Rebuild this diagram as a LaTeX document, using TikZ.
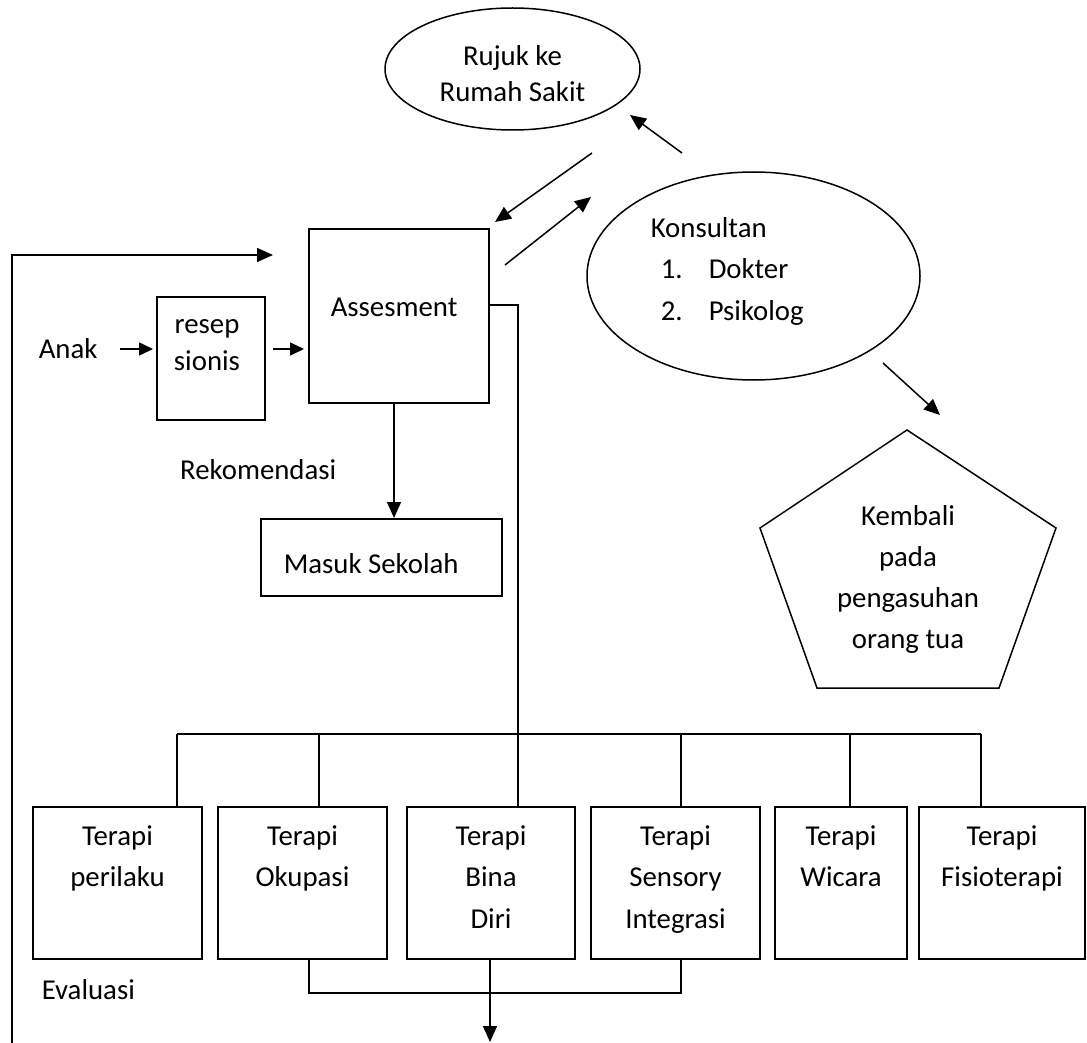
\documentclass[tikz,border=0pt]{standalone}
\usepackage{fontspec}
\setmainfont{Carlito}
\usetikzlibrary{arrows.meta,shapes.geometric}
\newcommand{\mylines}[1]{\vtop{\halign{\hfil##\hfil\cr #1\crcr}}}
\begin{document}
\begin{tikzpicture}[x=1pt,y=-1pt,line width=1.5pt,
  box/.style={draw,rectangle,inner sep=0pt},
  oval/.style={draw,ellipse,inner sep=0pt},
  txt/.style={inner sep=0pt,font=\fontsize{28.8}{41.5}\selectfont},
  arr/.style={-{Triangle[length=16pt,width=14pt]}},
  sarr/.style={-{Triangle[length=14pt,width=13pt]}}]
\useasboundingbox (0,0) rectangle (1087,1043);

% ellipses
\node[oval,minimum width=255pt,minimum height=122pt] (rujuk) at (512.5,69) {};
\node[txt,anchor=base] (rujukt) at (512.5,66) {\fontsize{28.8}{36}\selectfont\mylines{Rujuk ke\cr Rumah Sakit}};
\node[oval,minimum width=333pt,minimum height=208pt] (kons) at (753.5,276) {};
\node[txt,anchor=base west] (konst) at (650,237) {Konsultan};
\node[txt,anchor=base west] (n1) at (660,278) {1.};
\node[txt,anchor=base west] (dok) at (708,278) {Dokter};
\node[txt,anchor=base west] (n2) at (660,320) {2.};
\node[txt,anchor=base west] (psi) at (708,320) {Psikolog};

% pentagon
\coordinate (p1) at (907,430);
\coordinate (p2) at (1056,528);
\coordinate (p3) at (999,688);
\coordinate (p4) at (817,688);
\coordinate (p5) at (760,528);
\draw (p1) -- (p2) -- (p3) -- (p4) -- (p5) -- cycle;
\node[txt,anchor=base] (kembali) at (908,525) {\fontsize{28.8}{41}\selectfont\mylines{Kembali\cr pada\cr pengasuhan\cr orang tua}};

% top boxes
\node[box,minimum width=180pt,minimum height=174pt] (asses) at (399,316) {};
\node[txt,anchor=base west] (assest) at (330,316) {Assesment};
\node[box,minimum width=108pt,minimum height=123pt] (resep) at (211,358.5) {};
\node[txt,anchor=base] (resept) at (207,333) {\fontsize{28.8}{37}\selectfont\mylines{resep\cr sionis}};
\node[txt,anchor=base west] (anak) at (38,358) {Anak};
\node[txt,anchor=base east] (rekom) at (337,479) {Rekomendasi};
\node[box,minimum width=241pt,minimum height=77pt] (masuk) at (381.5,557.5) {};
\node[txt,anchor=base west] (masukt) at (283,573) {Masuk Sekolah};
\node[txt,anchor=base west] (eval) at (41,999) {Evaluasi};

% therapy boxes
\node[box,minimum width=169pt,minimum height=152pt] (b1) at (117.5,883) {};
\node[box,minimum width=169pt,minimum height=152pt] (b2) at (302.5,883) {};
\node[box,minimum width=168pt,minimum height=152pt] (b3) at (491,883) {};
\node[box,minimum width=169pt,minimum height=152pt] (b4) at (675.5,883) {};
\node[box,minimum width=132pt,minimum height=152pt] (b5) at (841,883) {};
\node[box,minimum width=166pt,minimum height=152pt] (b6) at (1002,883) {};
\node[txt,anchor=base] (t1) at (117.5,845) {\mylines{Terapi\cr perilaku}};
\node[txt,anchor=base] (t2) at (302.5,845) {\mylines{Terapi\cr Okupasi}};
\node[txt,anchor=base] (t3) at (491,845) {\mylines{Terapi\cr Bina\cr Diri}};
\node[txt,anchor=base] (t4) at (675.5,845) {\mylines{Terapi\cr Sensory\cr Integrasi}};
\node[txt,anchor=base] (t5) at (841,845) {\mylines{Terapi\cr Wicara}};
\node[txt,anchor=base] (t6) at (1002,845) {\mylines{Terapi\cr Fisioterapi}};

% free-end coordinates of arrows
\coordinate (k2rA) at (682,153); \coordinate (k2rB) at (630,115);
\coordinate (r2aA) at (592,153); \coordinate (r2aB) at (495,222);
\coordinate (a2kA) at (505,265); \coordinate (a2kB) at (591,197);
\coordinate (k2pA) at (883,363); \coordinate (k2pB) at (940,415);
\coordinate (an1) at (120,349); \coordinate (an2) at (153,349);
\coordinate (re1) at (273,349); \coordinate (re2) at (304,349);
\coordinate (loopA) at (12,1043); \coordinate (loopB) at (273,255);
\coordinate (asR) at (518,305);
\coordinate (busL) at (177,734); \coordinate (busR) at (981,734);
\coordinate (botL) at (309,993); \coordinate (botR) at (681,993);
\coordinate (outB) at (490,1042);
\coordinate (mA) at (394,403); \coordinate (mB) at (394,518);

% arrows
\draw[arr] (k2rA) -- (k2rB);
\draw[arr] (r2aA) -- (r2aB);
\draw[arr] (a2kA) -- (a2kB);
\draw[arr] (k2pA) -- (k2pB);
\draw[sarr] (an1) -- (an2);
\draw[sarr] (re1) -- (re2);
\draw[arr] (loopA) |- (loopB);
\draw[arr] (mA) -- (mB);

% assesment to therapy
\draw (asses.east |- asR) -- (asR) -- (asR |- b3.north);
\draw (busL) -- (busR);
\draw (busL) -- (busL |- b1.north);
\draw (319,734) -- (319,807);
\draw (681,734) -- (681,807);
\draw (850,734) -- (850,807);
\draw (busR) -- (busR |- b6.north);

% bottom collector
\draw (botL |- b2.south) -- (botL) -- (botR) -- (botR |- b4.south);
\draw[arr] (b3.south -| outB) -- (outB);
\end{tikzpicture}
\end{document}
